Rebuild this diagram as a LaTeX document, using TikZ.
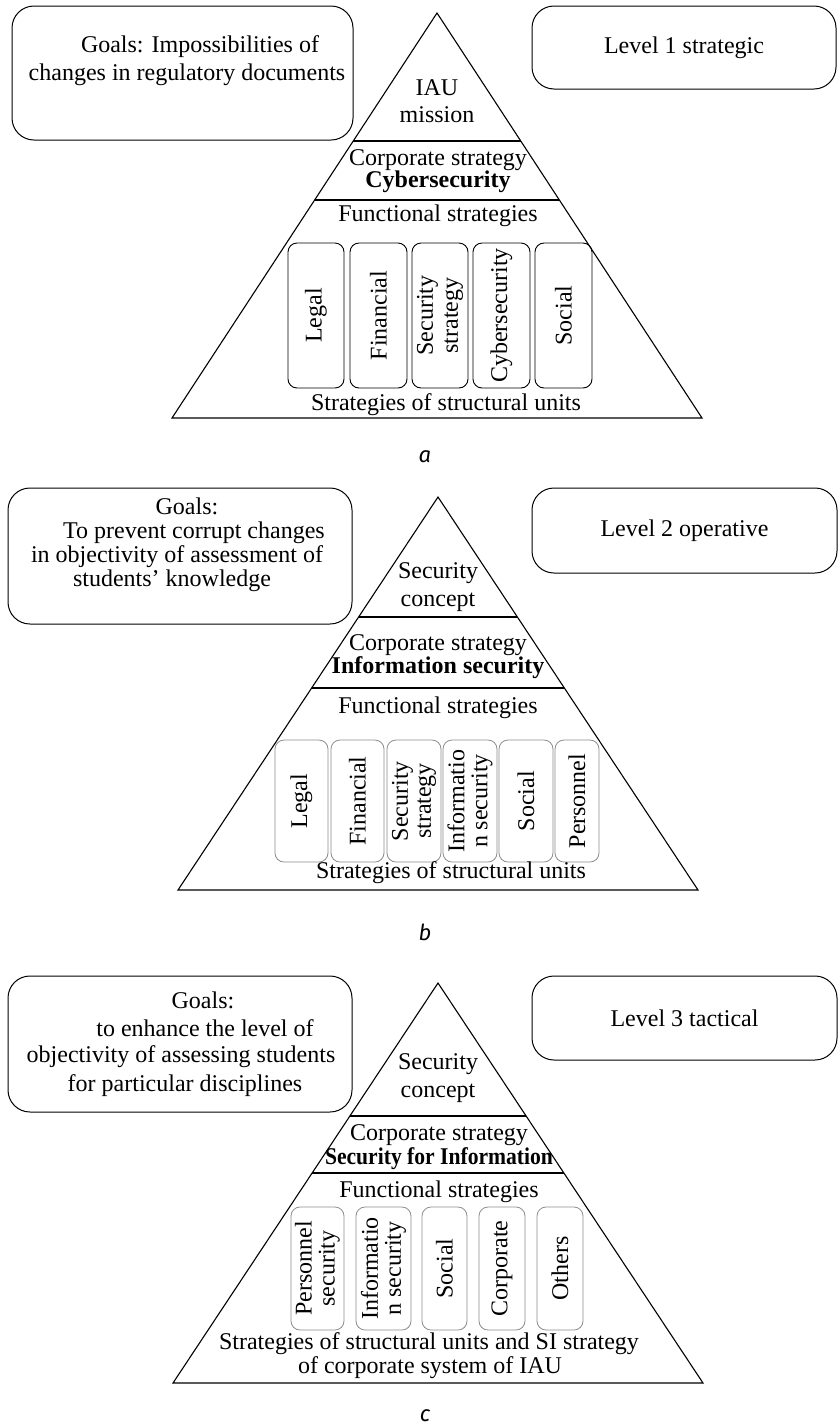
\documentclass[tikz,border=0pt]{standalone}
\usepackage{fontspec}
\setmainfont{Liberation Serif}
\newfontfamily\lblfont{Fira Sans}
\usetikzlibrary{calc}
\tikzset{
  txt/.style={font=\fontsize{24}{28}\selectfont, inner sep=0pt, anchor=base},
  btxt/.style={font=\fontsize{24}{28}\selectfont\bfseries, inner sep=0pt, anchor=base},
  goalbox/.style={draw, line width=1pt, rounded corners=22pt, inner sep=0pt},
  levelbox/.style={draw, line width=1pt, rounded corners=22pt, inner sep=0pt, font=\fontsize{24}{28}\selectfont},
  tri/.style={draw, line width=1.1pt, line join=miter},
  sepline/.style={draw, line width=1.1pt},
  unitA/.style={draw, line width=0.9pt, rounded corners=9pt, rotate=90, inner sep=0pt, align=center, font=\fontsize{24}{25}\selectfont},
  unitB/.style={draw=black!45, line width=0.8pt, rounded corners=9pt, rotate=90, inner sep=0pt, align=center, font=\fontsize{24}{23}\selectfont},
  sublabel/.style={font=\lblfont\itshape\fontsize{22}{24}\selectfont, inner sep=0pt}
}
\begin{document}
\begin{tikzpicture}[x=1pt,y=-1pt]
\useasboundingbox (0,0) rectangle (838,1425);

% ================= Panel a =================
\node[goalbox, minimum width=341pt, minimum height=134pt] (ga) at (182.5,73) {};
\node[txt] (ga1) at (200,52) {Goals: Impossibilities of};
\node[txt] (ga2) at (187,80) {changes in regulatory documents};
\node[levelbox, minimum width=304pt, minimum height=83pt] (la) at (684,47.5) {Level 1 strategic};

\coordinate (aT) at (437,13);
\coordinate (aL) at (172,418);
\coordinate (aR) at (702,418);
\draw[tri] (aT) -- (aL) -- (aR) -- cycle;
\draw[sepline] ($(aT)!0.316!(aL)$) -- ($(aT)!0.316!(aR)$);
\draw[sepline] ($(aT)!0.4617!(aL)$) -- ($(aT)!0.4617!(aR)$);

\node[txt] (a-iau) at (437,95) {IAU};
\node[txt] (a-mis) at (437,122) {mission};
\node[txt] (a-cs) at (438,165) {Corporate strategy};
\node[btxt] (a-cy) at (438,187) {Cybersecurity};
\node[txt] (a-fs) at (438,221) {Functional strategies};

\node[unitA, minimum width=145pt, minimum height=56pt] (a1) at (316,315.5) {Legal};
\node[unitA, minimum width=145pt, minimum height=57pt] (a2) at (378.5,315.5) {Financial};
\node[unitA, minimum width=145pt, minimum height=56pt] (a3) at (440,315.5) {Security\\strategy};
\node[unitA, minimum width=145pt, minimum height=57pt] (a4) at (501.5,315.5) {Cybersecurity};
\node[unitA, minimum width=145pt, minimum height=57pt] (a5) at (563.5,315.5) {Social};

\node[txt] (a-su) at (446,410) {Strategies of structural units};
\node[sublabel] (lab-a) at (425,457) {a};

% ================= Panel b =================
\node[goalbox, minimum width=344pt, minimum height=136pt] (gb) at (180,556) {};
\node[txt] (gb1) at (187,514) {Goals:};
\node[txt] (gb2) at (194,538) {To prevent corrupt changes};
\node[txt] (gb3) at (177,562) {in objectivity of assessment of};
\node[txt] (gb4) at (172,586) {students’ knowledge};
\node[levelbox, minimum width=305pt, minimum height=85pt] (lb) at (684.5,530.5) {Level 2 operative};

\coordinate (bT) at (438,497);
\coordinate (bL) at (178,890);
\coordinate (bR) at (698,890);
\draw[tri] (bT) -- (bL) -- (bR) -- cycle;
\draw[sepline] ($(bT)!0.3053!(bL)$) -- ($(bT)!0.3053!(bR)$);
\draw[sepline] ($(bT)!0.486!(bL)$) -- ($(bT)!0.486!(bR)$);

\node[txt] (b-sec) at (438,578) {Security};
\node[txt] (b-con) at (438,606) {concept};
\node[txt] (b-cs) at (438,650) {Corporate strategy};
\node[btxt] (b-is) at (438,673) {Information security};
\node[txt] (b-fs) at (438,713) {Functional strategies};

\node[unitB, minimum width=122pt, minimum height=53pt] (b1) at (301.5,801) {Legal};
\node[unitB, minimum width=122pt, minimum height=53pt] (b2) at (357.5,801) {Financial};
\node[unitB, minimum width=122pt, minimum height=54pt] (b3) at (414,801) {Security\\strategy};
\node[unitB, minimum width=122pt, minimum height=54pt] (b4) at (470,801) {Informatio\\n security};
\node[unitB, minimum width=122pt, minimum height=54pt] (b5) at (526,801) {Social};
\node[unitB, minimum width=122pt, minimum height=44pt] (b6) at (577,801) {Personnel};

\node[txt] (b-su) at (451,878) {Strategies of structural units};
\node[sublabel] (lab-b) at (425,932) {b};

% ================= Panel c =================
\node[goalbox, minimum width=344pt, minimum height=136pt] (gc) at (180,1044) {};
\node[txt] (gc1) at (203,1008) {Goals:};
\node[txt] (gc2) at (205,1036) {to enhance the level of};
\node[txt] (gc3) at (181,1062) {objectivity of assessing students};
\node[txt] (gc4) at (185,1091) {for particular disciplines};
\node[levelbox, minimum width=305pt, minimum height=84pt] (lc) at (684.5,1018) {Level 3 tactical};

\coordinate (cT) at (438,983);
\coordinate (cL) at (173,1383);
\coordinate (cR) at (703,1383);
\draw[tri] (cT) -- (cL) -- (cR) -- cycle;
\draw[sepline] ($(cT)!0.3325!(cL)$) -- ($(cT)!0.3325!(cR)$);
\draw[sepline] ($(cT)!0.475!(cL)$) -- ($(cT)!0.475!(cR)$);

\node[txt] (c-sec) at (438,1069) {Security};
\node[txt] (c-con) at (438,1097) {concept};
\node[txt] (c-cs) at (439,1140) {Corporate strategy};
\node[btxt, xscale=0.9] (c-si) at (439,1164) {Security for Information};
\node[txt] (c-fs) at (439,1197) {Functional strategies};

\node[unitB, minimum width=123pt, minimum height=53pt] (c1) at (317.5,1268.5) {Personnel\\security};
\node[unitB, minimum width=123pt, minimum height=55pt] (c2) at (383.5,1268.5) {Informatio\\n security};
\node[unitB, minimum width=123pt, minimum height=45pt] (c3) at (444.5,1268.5) {Social};
\node[unitB, minimum width=123pt, minimum height=46pt] (c4) at (502,1268.5) {Corporate};
\node[unitB, minimum width=123pt, minimum height=46pt] (c5) at (560,1268.5) {Others};

\node[txt] (c-su1) at (429,1349) {Strategies of structural units and SI strategy};
\node[txt] (c-su2) at (430,1373) {of corporate system of IAU};
\node[sublabel] (lab-c) at (425,1416) {c};
\end{tikzpicture}
\end{document}
